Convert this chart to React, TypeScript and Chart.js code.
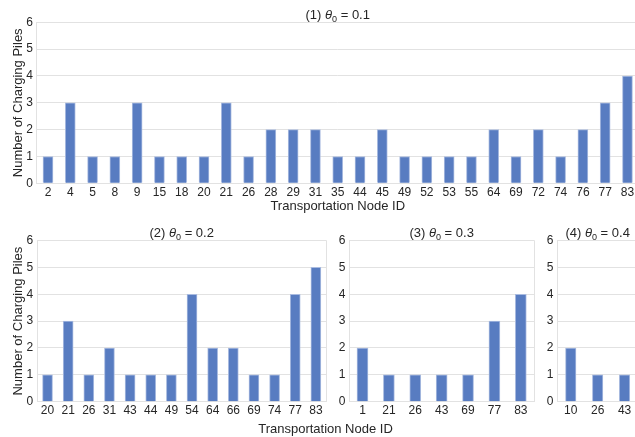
import React, { useEffect, useRef } from 'react';
import { Chart, registerables } from 'chart.js';

Chart.register(...registerables);

const FONT = '"Liberation Sans", Arial, Helvetica, sans-serif';
const TEXT = '#262626';
const GRID = '#e2e2e2';
const BAR = '#587cc1';
const BAR_EDGE = '#a9bbe0';

// ---- data ----
const nodes1 = ['2', '4', '5', '8', '9', '15', '18', '20', '21', '26', '28', '29', '31', '35', '44', '45', '49', '52', '53', '55', '64', '69', '72', '74', '76', '77', '83'];
const piles1 = [1, 3, 1, 1, 3, 1, 1, 1, 3, 1, 2, 2, 2, 1, 1, 2, 1, 1, 1, 1, 2, 1, 2, 1, 2, 3, 4];

const nodes2 = ['20', '21', '26', '31', '43', '44', '49', '54', '64', '66', '69', '74', '77', '83'];
const piles2 = [1, 3, 1, 2, 1, 1, 1, 4, 2, 2, 1, 1, 4, 5];

const nodes3 = ['1', '21', '26', '43', '69', '77', '83'];
const piles3 = [2, 1, 1, 1, 1, 3, 4];

const nodes4 = ['10', '26', '43'];
const piles4 = [2, 1, 1];

const theta = ['0.1', '0.2', '0.3', '0.4'];
const yMin = 0;
const yMax = 6;
const yStep = 1;
const yTitle = 'Number of Charging Piles';
const xTitle = 'Transportation Node ID';

const TICK_SIZE = 12;

const decor = {
  id: 'decor',
  afterDraw(chart: any, _args: any, opts: any) {
    const { ctx, chartArea: a } = chart;
    ctx.save();
    // top & right spines
    ctx.strokeStyle = GRID;
    ctx.lineWidth = 1;
    ctx.beginPath();
    const rx = Math.floor(a.right) + 0.5;
    const ty = Math.floor(a.top) + 0.5;
    ctx.moveTo(a.left, ty);
    ctx.lineTo(rx, ty);
    ctx.lineTo(rx, a.bottom);
    ctx.stroke();

    ctx.fillStyle = TEXT;
    // title: (n) θ0 = v
    if (opts.index) {
      const pre = '(' + opts.index + ') ';
      const suf = ' = ' + opts.value;
      ctx.font = `13px ${FONT}`;
      const wPre = ctx.measureText(pre).width;
      const wSuf = ctx.measureText(suf).width;
      ctx.font = `italic 13px ${FONT}`;
      const wTh = ctx.measureText('θ').width;
      ctx.font = `9px ${FONT}`;
      const wSub = ctx.measureText('0').width;
      const total = wPre + wTh + wSub + wSuf;
      let x = (a.left + a.right) / 2 - total / 2;
      const y = a.top - 3.5;
      ctx.textAlign = 'left';
      ctx.textBaseline = 'alphabetic';
      ctx.font = `13px ${FONT}`;
      ctx.fillText(pre, x, y);
      x += wPre;
      ctx.font = `italic 13px ${FONT}`;
      ctx.fillText('θ', x, y);
      x += wTh;
      ctx.font = `9px ${FONT}`;
      ctx.fillText('0', x, y + 3);
      x += wSub;
      ctx.font = `13px ${FONT}`;
      ctx.fillText(suf, x, y);
    }
    if (opts.yLabel) {
      ctx.font = `13px ${FONT}`;
      ctx.translate(21.5, (a.top + a.bottom) / 2);
      ctx.rotate(-Math.PI / 2);
      ctx.textAlign = 'center';
      ctx.textBaseline = 'alphabetic';
      ctx.fillText(opts.yLabel, 0, 0);
      ctx.setTransform(1, 0, 0, 1, 0, 0);
    }
    if (opts.xLabel) {
      ctx.font = `13px ${FONT}`;
      ctx.textAlign = 'center';
      ctx.textBaseline = 'alphabetic';
      ctx.fillText(opts.xLabel, (a.left + a.right) / 2, opts.xLabelY);
    }
    ctx.restore();
  },
};

type PanelProps = {
  labels: string[];
  values: number[];
  index: number;
  value: string;
  yLabel?: string;
  xLabel?: string;
  xLabelY?: number;
  x: number;
  y: number;
  w: number;
  h: number;
  yWidth: number;
  xHeight: number;
  padTop: number;
  padRight: number;
  bar: number;
};

function Panel(p: PanelProps) {
  const ref = useRef<HTMLCanvasElement>(null);
  useEffect(() => {
    const chart = new Chart(ref.current as HTMLCanvasElement, {
      type: 'bar',
      data: {
        labels: p.labels,
        datasets: [
          {
            data: p.values,
            backgroundColor: BAR,
            borderColor: BAR_EDGE,
            borderWidth: 1,
            barThickness: p.bar,
          },
        ],
      },
      options: {
        animation: false,
        responsive: false,
        maintainAspectRatio: false,
        devicePixelRatio: 1,
        layout: { padding: { top: p.padTop, right: p.padRight, left: 0, bottom: 0 } },
        plugins: {
          legend: { display: false },
          tooltip: { enabled: false },
          decor: { index: p.index, value: p.value, yLabel: p.yLabel, xLabel: p.xLabel, xLabelY: p.xLabelY },
        } as any,
        scales: {
          x: {
            grid: { display: false, drawTicks: false },
            border: { display: true, color: GRID, width: 1 },
            ticks: {
              color: TEXT,
              font: { family: FONT, size: TICK_SIZE },
              padding: 2,
              autoSkip: false,
              maxRotation: 0,
              minRotation: 0,
            },
            afterFit: (s: any) => {
              s.height = p.xHeight;
            },
          },
          y: {
            min: yMin,
            max: yMax,
            grid: { color: GRID, drawTicks: false },
            border: { display: true, color: GRID, width: 1 },
            ticks: {
              stepSize: yStep,
              color: TEXT,
              font: { family: FONT, size: TICK_SIZE },
              padding: 4,
            },
            afterFit: (s: any) => {
              s.width = p.yWidth;
            },
          },
        },
      },
      plugins: [decor as any],
    });
    return () => chart.destroy();
  }, []);
  return (
    <canvas
      ref={ref}
      width={p.w}
      height={p.h}
      style={{ position: 'absolute', left: p.x, top: p.y, width: p.w, height: p.h }}
    />
  );
}

export default function App() {
  return (
    <div
      style={{
        position: 'fixed',
        left: 0,
        top: 0,
        width: 635,
        height: 437,
        overflow: 'hidden',
        background: '#ffffff',
      }}
    >
      <Panel
        labels={nodes1}
        values={piles1}
        index={1}
        value={theta[0]}
        yLabel={yTitle}
        xLabel={xTitle}
        xLabelY={209.5}
        x={0}
        y={0}
        w={640}
        h={215}
        yWidth={36.85}
        xHeight={31.7}
        padTop={22.3}
        padRight={1.4}
        bar={10}
      />
      <Panel
        labels={nodes2}
        values={piles2}
        index={2}
        value={theta[1]}
        yLabel={yTitle}
        x={0}
        y={215}
        w={330}
        h={222}
        yWidth={37.2}
        xHeight={35.3}
        padTop={25.5}
        padRight={3.8}
        bar={10}
      />
      <Panel
        labels={nodes3}
        values={piles3}
        index={3}
        value={theta[2]}
        x={330}
        y={215}
        w={206}
        h={222}
        yWidth={19.3}
        xHeight={35.3}
        padTop={25.5}
        padRight={2}
        bar={11}
      />
      <Panel
        labels={nodes4}
        values={piles4}
        index={4}
        value={theta[3]}
        x={536}
        y={215}
        w={104}
        h={222}
        yWidth={21.3}
        xHeight={35.3}
        padTop={25.5}
        padRight={2}
        bar={10.5}
      />
      <div
        style={{
          position: 'absolute',
          left: 0,
          top: 421,
          width: 651,
          textAlign: 'center',
          fontFamily: FONT,
          fontSize: 13,
          lineHeight: '15px',
          color: TEXT,
          whiteSpace: 'nowrap',
        }}
      >
        {xTitle}
      </div>
    </div>
  );
}
